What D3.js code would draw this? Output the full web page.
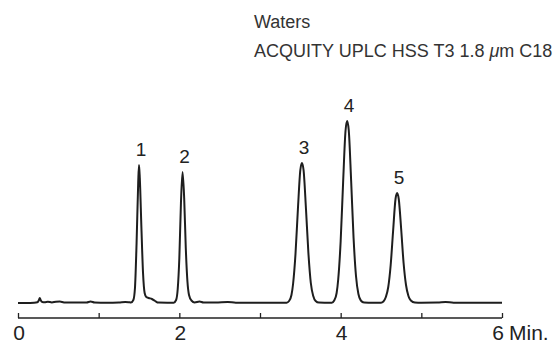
<!DOCTYPE html>
<html>
<head>
<meta charset="utf-8">
<script src="https://cdn.jsdelivr.net/npm/d3@7/dist/d3.min.js"></script>
<style>
  html, body { margin: 0; padding: 0; background: #fff; }
  svg { display: block; }
  text { font-family: "Liberation Sans", Arial, Helvetica, sans-serif; fill: #222; }
</style>
</head>
<body>
<svg id="chart" width="556" height="344"></svg>
<script>
// ---- Data ----
const titleLines = ["Waters", "ACQUITY UPLC HSS T3 1.8 \u03BCm C18"];
const tickValues = [0, 1, 2, 3, 4, 5, 6];
const tickLabels = ["0", "", "2", "", "4", "", "6"];
const axisUnit = "Min.";
const peakLabels = ["1", "2", "3", "4", "5"];
const peakTimes = [1.50, 2.04, 3.52, 4.08, 4.70];
const peakHeights = [138, 131, 140, 182, 110];

const times = [
  0.00, 0.10, 0.20, 0.24, 0.26, 0.27, 0.28, 0.30, 0.33, 0.37, 0.42, 0.47, 0.52, 0.57, 0.70, 0.85, 0.90, 0.95, 1.10, 1.25, 1.33, 1.37, 1.40,
  1.43, 1.45, 1.47, 1.49, 1.50, 1.51, 1.53, 1.55, 1.57, 1.59, 1.62, 1.66, 1.70, 1.74, 1.85,
  1.93, 1.96, 1.98, 2.00, 2.02, 2.04, 2.06, 2.08, 2.10, 2.12, 2.15, 2.19, 2.25, 2.30, 2.45, 2.60, 2.70, 3.00,
  3.33, 3.36, 3.39, 3.41, 3.44, 3.47, 3.50, 3.52, 3.54, 3.57, 3.60, 3.63, 3.66, 3.69, 3.73, 3.80,
  3.89, 3.92, 3.95, 3.97, 4.00, 4.03, 4.06, 4.08, 4.10, 4.13, 4.16, 4.19, 4.22, 4.25, 4.29, 4.40,
  4.50, 4.53, 4.56, 4.59, 4.62, 4.65, 4.68, 4.70, 4.72, 4.75, 4.78, 4.81, 4.84, 4.87, 4.92,
  5.00, 5.20, 5.30, 5.40, 5.70, 6.00
];
const signal = [
  0, 0, 0.3, 0.8, 3, 5, 3, 1, 0.8, 1.2, 0.6, 1.3, 1.5, 0.6, 0.4, 0.5, 1.6, 0.5, 0.3, 0.5, 1, 0.8, 0.5,
  3, 15, 60, 120, 138, 125, 75, 30, 10, 6, 5, 4, 2, 0.4, 0.3,
  0.3, 3, 14, 45, 100, 131, 105, 55, 22, 8, 2.5, 0.6, 1.5, 0.5, 0.4, 1, 0.3, 0.2,
  0.3, 2, 8, 19, 49, 94, 133, 140, 133, 94, 50, 20, 7, 2, 0.4, 0.3,
  0.3, 2.5, 10, 24, 62, 120, 172, 182, 173, 122, 65, 27, 9, 2.5, 0.5, 0.3,
  0.3, 1.5, 6, 16, 38, 72, 104, 110, 104, 74, 40, 18, 7, 2.5, 0.5,
  0.3, 0.4, 1, 0.3, 0.3, 0.3
];

// ---- Drawing ----
const svg = d3.select("#chart");
svg.append("rect").attr("width", 556).attr("height", 344).attr("fill", "#fff");

const x = d3.scaleLinear().domain([0, 6]).range([18, 502]);
const y = d3.scaleLinear().domain([0, 200]).range([303, 103]);

const pts = times.map((t, i) => [t, signal[i]]);

svg.append("path")
  .datum(pts)
  .attr("fill", "none")
  .attr("stroke", "#1e1e1e")
  .attr("stroke-width", 2)
  .attr("stroke-linejoin", "round")
  .attr("d", d3.line().x(d => x(d[0])).y(d => y(d[1])).curve(d3.curveMonotoneX));

// Axis with ticks pointing up
const axisY = 318;
const axis = d3.axisTop(x).tickValues(tickValues).tickSize(5).tickFormat("");
const ag = svg.append("g").attr("transform", `translate(0,${axisY})`).call(axis);
ag.select(".domain").attr("d", `M${x(0)},0H${x(6)}`).attr("stroke", "#222").attr("stroke-width", 1.3);
ag.selectAll(".tick line").attr("stroke", "#222").attr("stroke-width", 1.3);

const lastTick = tickValues[tickValues.length - 1];
svg.append("g").selectAll("text")
  .data(tickValues.filter((v, i) => tickLabels[i] !== ""))
  .join("text")
  .attr("x", d => x(d) + (d === lastTick ? -4 : 1))
  .attr("y", 340)
  .attr("text-anchor", "middle")
  .attr("font-size", 21)
  .text(d => tickLabels[tickValues.indexOf(d)]);

svg.append("text")
  .attr("x", x(lastTick) + 7)
  .attr("y", 340)
  .attr("font-size", 21)
  .text(axisUnit);

// Peak labels
svg.append("g").selectAll("text")
  .data(peakLabels)
  .join("text")
  .attr("x", (d, i) => x(peakTimes[i]) + 2)
  .attr("y", (d, i) => y(peakHeights[i]) - 9)
  .attr("text-anchor", "middle")
  .attr("font-size", 19)
  .text(d => d);

// Column title (the micro sign is set in italic)
const tg = svg.append("g");
titleLines.forEach((line, i) => {
  const t = tg.append("text")
    .attr("x", 254)
    .attr("y", 28 + i * 29)
    .attr("font-size", 18)
    .style("fill", "#333");
  line.split(/(\u03BC)/).forEach(part => {
    if (!part) return;
    const ts = t.append("tspan").text(part);
    if (part === "\u03BC") ts.attr("font-style", "italic");
  });
});
</script>
</body>
</html>
